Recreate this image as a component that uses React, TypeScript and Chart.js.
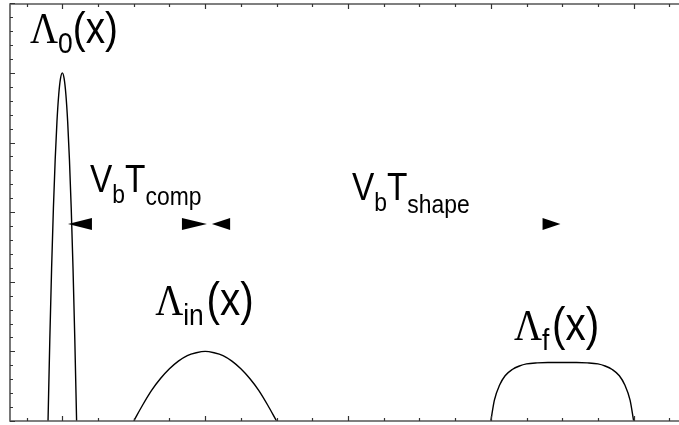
import { useEffect, useRef } from "react";
import { Chart, registerables } from "chart.js";

Chart.register(...registerables);

// Line-density profiles along x (x in units of the minor tick spacing)
const lambda0X = [-0.4, -0.35, -0.3, -0.25, -0.2, -0.15, -0.1, -0.05, 0, 0.05, 0.1, 0.15, 0.2, 0.25, 0.3, 0.35, 0.4];
const lambda0Y = [0, 1.17, 2.19, 3.05, 3.75, 4.3, 4.69, 4.92, 5, 4.92, 4.69, 4.3, 3.75, 3.05, 2.19, 1.17, 0];

const lambdaInX = [2, 2.25, 2.5, 2.75, 3, 3.25, 3.5, 3.75, 4, 4.25, 4.5, 4.75, 5, 5.25, 5.5, 5.75, 6];
const lambdaInY = [0, 0.23, 0.44, 0.61, 0.75, 0.86, 0.94, 0.98, 1, 0.98, 0.94, 0.86, 0.75, 0.61, 0.44, 0.23, 0];

const lambdaFX = [12, 12.1, 12.25, 12.4, 12.6, 12.8, 13, 13.3, 13.6, 14, 14.4, 14.7, 15, 15.2, 15.4, 15.6, 15.75, 15.9, 16];
const lambdaFY = [0, 0.3, 0.52, 0.65, 0.74, 0.79, 0.82, 0.835, 0.84, 0.84, 0.84, 0.835, 0.82, 0.79, 0.74, 0.65, 0.52, 0.3, 0];

// Axis tick positions
const xMinorTicks = [-1, 0, 1, 2, 3, 4, 5, 6, 7, 8, 9, 10, 11, 12, 13, 14, 15, 16, 17];
const xMajorTicks = [0, 4, 8, 12, 16];
const yMinorTicks = [0, 0.2, 0.4, 0.6, 0.8, 1, 1.2, 1.4, 1.6, 1.8, 2, 2.2, 2.4, 2.6, 2.8, 3, 3.2, 3.4, 3.6, 3.8, 4, 4.2, 4.4, 4.6, 4.8, 5, 5.2, 5.4, 5.6, 5.8, 6];
const yMajorTicks = [0, 1, 2, 3, 4, 5, 6];

// Dimension arrowheads (tip x, base x) at a common height
const arrowTips = [0.16, 4.05, 4.19, 13.95];
const arrowBases = [0.83, 3.35, 4.7, 13.45];
const arrowLevel = 2.83;

const SERIF = "'Liberation Serif', 'Times New Roman', serif";
const SANS = "'Liberation Sans', Arial, Helvetica, sans-serif";

type Run = { text: string; family: string; size: number; dy: number; gap?: number };
type Label = { x: number; y: number; runs: Run[] };

const labels: Label[] = [
  {
    x: -0.905,
    y: 5.43,
    runs: [
      { text: "Λ", family: SERIF, size: 44, dy: 0 },
      { text: "0", family: SANS, size: 30, dy: 10 },
      { text: "(x)", family: SANS, size: 44, dy: 0 },
    ],
  },
  {
    x: 2.6,
    y: 1.52,
    runs: [
      { text: "Λ", family: SERIF, size: 44, dy: 0 },
      { text: "in", family: SANS, size: 30, dy: 10, gap: 3 },
      { text: "(x)", family: SANS, size: 46, dy: 0 },
    ],
  },
  {
    x: 12.65,
    y: 1.16,
    runs: [
      { text: "Λ", family: SERIF, size: 44, dy: 0 },
      { text: "f", family: SANS, size: 30, dy: 10, gap: 3 },
      { text: "(x)", family: SANS, size: 46, dy: 0 },
    ],
  },
  {
    x: 0.776,
    y: 3.29,
    runs: [
      { text: "V", family: SANS, size: 38, dy: 0 },
      { text: "b", family: SANS, size: 26, dy: 11 },
      { text: "T", family: SANS, size: 38, dy: 0 },
      { text: "comp", family: SANS, size: 26, dy: 13 },
    ],
  },
  {
    x: 8.11,
    y: 3.175,
    runs: [
      { text: "V", family: SANS, size: 38, dy: 0 },
      { text: "b", family: SANS, size: 26, dy: 11 },
      { text: "T", family: SANS, size: 38, dy: 0 },
      { text: "shape", family: SANS, size: 26, dy: 13 },
    ],
  },
];

const toPoints = (xs: number[], ys: number[]) => xs.map((x, i) => ({ x, y: ys[i] }));

const framePlugin = {
  id: "frameAndNotes",
  afterDatasetsDraw(chart: any) {
    const { ctx, chartArea } = chart;
    const xs = chart.scales.x;
    const ys = chart.scales.y;
    const { left, top, right, bottom } = chartArea;
    ctx.save();

    // frame
    ctx.strokeStyle = "#555";
    ctx.lineWidth = 1.6;
    ctx.beginPath();
    ctx.moveTo(right + 2, top);
    ctx.lineTo(left, top);
    ctx.lineTo(left, bottom);
    ctx.lineTo(right + 2, bottom);
    ctx.stroke();

    // inward ticks
    ctx.strokeStyle = "#333";
    ctx.lineWidth = 1.2;
    ctx.beginPath();
    for (const v of xMinorTicks) {
      const px = Math.round(xs.getPixelForValue(v)) + 0.5;
      const len = xMajorTicks.includes(v) ? 5 : 3;
      ctx.moveTo(px, bottom);
      ctx.lineTo(px, bottom - len);
      ctx.moveTo(px, top);
      ctx.lineTo(px, top + len);
    }
    for (const v of yMinorTicks) {
      const py = Math.round(ys.getPixelForValue(v)) + 0.5;
      const len = yMajorTicks.includes(v) ? 5 : 3;
      ctx.moveTo(left, py);
      ctx.lineTo(left + len, py);
    }
    ctx.stroke();

    // arrowheads
    ctx.fillStyle = "#000";
    const ay = ys.getPixelForValue(arrowLevel);
    arrowTips.forEach((tip, i) => {
      const tx = xs.getPixelForValue(tip);
      const bx = xs.getPixelForValue(arrowBases[i]);
      ctx.beginPath();
      ctx.moveTo(tx, ay);
      ctx.lineTo(bx, ay - 6);
      ctx.lineTo(bx, ay + 6);
      ctx.closePath();
      ctx.fill();
    });

    // labels
    ctx.textBaseline = "alphabetic";
    ctx.textAlign = "left";
    for (const lab of labels) {
      ctx.save();
      ctx.translate(xs.getPixelForValue(lab.x), ys.getPixelForValue(lab.y));
      ctx.scale(0.88, 1);
      let cx = 0;
      for (const r of lab.runs) {
        ctx.font = `${r.size}px ${r.family}`;
        ctx.fillText(r.text, cx, r.dy);
        cx += ctx.measureText(r.text).width + (r.gap ?? 0);
      }
      ctx.restore();
    }
    ctx.restore();
  },
};

export default function App() {
  const canvasRef = useRef<HTMLCanvasElement | null>(null);

  useEffect(() => {
    document.body.style.margin = "0";
    const canvas = canvasRef.current;
    if (!canvas) return;
    const lineStyle = {
      borderColor: "#000",
      borderWidth: 1.4,
      pointRadius: 0,
      fill: false,
      cubicInterpolationMode: "monotone" as const,
    };
    const chart = new Chart(canvas, {
      type: "line",
      data: {
        datasets: [
          { label: "Λ0", data: toPoints(lambda0X, lambda0Y), ...lineStyle },
          { label: "Λin", data: toPoints(lambdaInX, lambdaInY), ...lineStyle },
          { label: "Λf", data: toPoints(lambdaFX, lambdaFY), ...lineStyle },
        ],
      },
      options: {
        animation: false,
        responsive: false,
        maintainAspectRatio: false,
        devicePixelRatio: 1,
        layout: { padding: { left: 10, top: 4, right: 0, bottom: 4 } },
        plugins: { legend: { display: false }, tooltip: { enabled: false } },
        scales: {
          x: { type: "linear", display: false, min: -1.465, max: 17.27 },
          y: { type: "linear", display: false, min: 0, max: 5.99 },
        },
      },
      plugins: [framePlugin],
    });
    return () => chart.destroy();
  }, []);

  return (
    <div style={{ position: "fixed", left: 0, top: 0, width: 679, height: 425, background: "#fff" }}>
      <canvas ref={canvasRef} width={679} height={425} />
    </div>
  );
}
